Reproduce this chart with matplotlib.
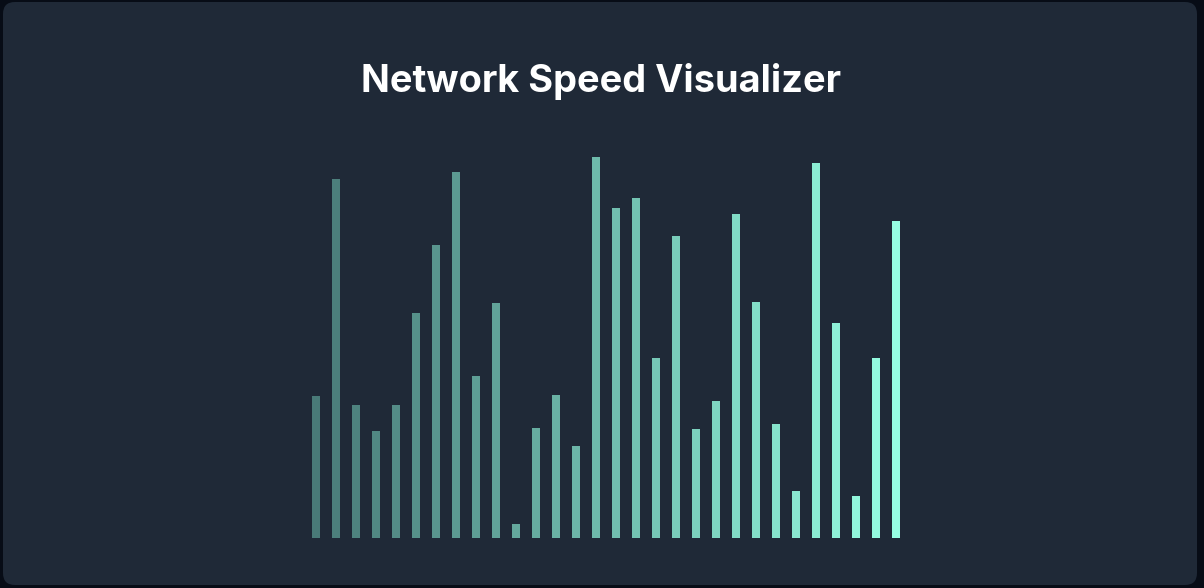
import matplotlib
matplotlib.use("Agg")
import matplotlib.pyplot as plt
from matplotlib.patches import FancyBboxPatch
from matplotlib.colors import to_rgb
import numpy as np

# speed samples (Mbps)
samples = list(range(1, 31))
speeds = [35.4, 89.7, 33.2, 26.7, 33.2, 56.2, 73.2, 91.4, 40.4, 58.7,
          3.4, 27.4, 35.7, 22.9, 95.2, 82.4, 84.9, 44.9, 75.4, 27.2,
          34.2, 80.9, 58.9, 28.4, 11.7, 93.7, 53.7, 10.4, 44.9, 79.2]

title = "Network Speed Visualizer"

W, H = 1204, 588
fig = plt.figure(figsize=(W / 100, H / 100), dpi=100)
fig.patch.set_facecolor("#070c16")

# rounded card behind everything, in pixel coords
card = FancyBboxPatch((3 + 12, 3 + 12), 1194 - 24, 583 - 24,
                      boxstyle="round,pad=12", transform=None,
                      facecolor="#1f2937", edgecolor="none", zorder=-5)
fig.patches.append(card)

ax = fig.add_axes([306 / W, (H - 537.7) / H, 600 / W, 400 / H])
ax.set_facecolor("none")
ax.set_zorder(2)

# colour ramp from dim teal to bright aquamarine
c0 = np.array(to_rgb("#497a78"))
c1 = np.array(to_rgb("#96fee2"))
n = len(speeds)
colors = [tuple(c0 + (c1 - c0) * i / (n - 1)) for i in range(n)]

ax.bar(range(n), speeds, width=0.4, color=colors, linewidth=0)
ax.set_xlim(-0.5, n - 0.5)
ax.set_ylim(0, 100)
ax.axis("off")

fig.text(601 / W, (H - 92) / H, title, ha="center", va="baseline",
         color="white", fontsize=27.3, fontweight="bold",
         family=["Inter", "DejaVu Sans"], zorder=3)

fig.savefig("out.png", dpi=100, facecolor=fig.get_facecolor())
